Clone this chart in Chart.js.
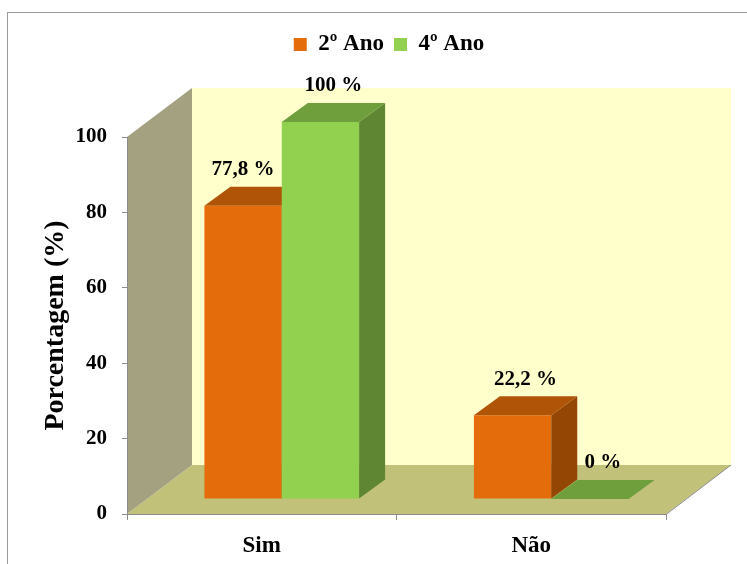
<!DOCTYPE html>
<html>
<head>
<meta charset="utf-8">
<script src="https://cdn.jsdelivr.net/npm/chart.js@4.4.0/dist/chart.umd.min.js"></script>
<style>
  html, body { margin: 0; padding: 0; background: #fff; }
  #wrap { width: 747px; height: 564px; }
</style>
</head>
<body>
<div id="wrap"><canvas id="chart" width="747" height="564"></canvas></div>
<script>
// Data
const categories = ['Sim', 'Não'];
const seriesNames = ['2º Ano', '4º Ano'];
const ano2 = [77.8, 22.2];
const ano4 = [100, 0];
const yTickStep = 20;
const yMax = 100;

// colours: front, top, side
const orange = { front: '#E46C0A', top: '#B05407', side: '#944605' };
const green = { front: '#92D050', top: '#6F9F3D', side: '#5E8633' };
const palette = [orange, green];

const SERIF = '"Liberation Serif", "Times New Roman", serif';

// 3D look: wall depth, bar offset into depth and bar depth
const WALL = { dx: 65, dy: -49 };
const BAR_OFF = { dx: 20, dy: -15 };
const BAR_DEPTH = { dx: 26, dy: -19 };

function poly(ctx, pts, fill, stroke) {
  ctx.beginPath();
  ctx.moveTo(pts[0][0], pts[0][1]);
  for (let i = 1; i < pts.length; i++) ctx.lineTo(pts[i][0], pts[i][1]);
  ctx.closePath();
  if (fill) { ctx.fillStyle = fill; ctx.fill(); }
  if (stroke) { ctx.strokeStyle = stroke; ctx.lineWidth = 1; ctx.stroke(); }
}

const fmt = v => String(v).replace('.', ',') + ' %';

const box3d = {
  id: 'box3d',
  beforeDraw(chart) {
    const { ctx, chartArea: a } = chart;
    ctx.save();
    ctx.fillStyle = '#fff';
    ctx.fillRect(0, 0, chart.width, chart.height);
    // outer frame
    ctx.strokeStyle = '#9A9A9A';
    ctx.lineWidth = 1;
    ctx.strokeRect(7.5, 12.5, 800, 600);

    const L = a.left, R = a.right, T = a.top, B = a.bottom;
    const wx = WALL.dx, wy = WALL.dy;
    // back wall
    poly(ctx, [[L + wx, T + wy], [R + wx, T + wy], [R + wx, B + wy], [L + wx, B + wy]], '#FFFFCC');
    // floor
    poly(ctx, [[L, B], [R, B], [R + wx, B + wy], [L + wx, B + wy]], '#C2C17A');
    ctx.beginPath();
    ctx.moveTo(R, B + 0.5); ctx.lineTo(R + wx, B + wy);
    ctx.strokeStyle = '#8C8C8C'; ctx.stroke();
    // side wall
    poly(ctx, [[L, T], [L + wx, T + wy], [L + wx, B + wy], [L, B]], '#A3A17F');
    ctx.restore();
  },
  beforeDatasetsDraw(chart) {
    const ctx = chart.ctx;
    const metas = chart.data.datasets.map((d, i) => chart.getDatasetMeta(i));
    ctx.save();
    categories.forEach((cat, ci) => {
      metas.forEach((meta, di) => {
        const el = meta.data[ci];
        const { x, y, base, width } = el.getProps(['x', 'y', 'base', 'width'], true);
        const c = palette[di];
        const x0 = x - width / 2 + BAR_OFF.dx, x1 = x + width / 2 + BAR_OFF.dx;
        const yT = y + BAR_OFF.dy, yB = base + BAR_OFF.dy;
        const bx = BAR_DEPTH.dx, by = BAR_DEPTH.dy;
        if (yB - yT > 0.5) {
          poly(ctx, [[x0, yT], [x1, yT], [x1, yB], [x0, yB]], c.front);
          poly(ctx, [[x1, yT], [x1 + bx, yT + by], [x1 + bx, yB + by], [x1, yB]], c.side);
        }
        poly(ctx, [[x0, yT], [x1, yT], [x1 + bx, yT + by], [x0 + bx, yT + by]], c.top);

        // value label, moved to the front when the next bar would hide it
        const v = chart.data.datasets[di].data[ci];
        let lx = (x0 + x1) / 2 + bx / 2;
        const next = chart.data.datasets[di + 1];
        if (next && next.data[ci] > v) lx = (x0 + x1) / 2;
        ctx.fillStyle = '#000';
        ctx.font = 'bold 21px ' + SERIF;
        ctx.textAlign = 'center';
        ctx.textBaseline = 'middle';
        ctx.fillText(fmt(v), lx, yT + by - 17);
      });
    });
    ctx.restore();
    return false;
  }
};

new Chart(document.getElementById('chart'), {
  type: 'bar',
  data: {
    labels: categories,
    datasets: [
      { label: seriesNames[0], data: ano2, backgroundColor: orange.front, borderWidth: 0 },
      { label: seriesNames[1], data: ano4, backgroundColor: green.front, borderWidth: 0 }
    ]
  },
  options: {
    responsive: false,
    animation: false,
    devicePixelRatio: 1,
    layout: { padding: { top: 23, right: 0, bottom: 0, left: 31 } },
    datasets: { bar: { categoryPercentage: 0.574, barPercentage: 1 } },
    plugins: {
      legend: {
        position: 'top',
        labels: {
          boxWidth: 13, boxHeight: 13, padding: 10, color: '#000',
          font: { family: SERIF, size: 23, weight: 'bold' }
        }
      },
      // empty title used as spacer between legend and plot
      title: {
        display: true, text: ' ', weight: 500, position: 'top',
        font: { size: 10, lineHeight: 1 }, padding: { top: 61, bottom: 0 }
      },
      tooltip: { enabled: false }
    },
    scales: {
      x: {
        grid: { offset: true, drawOnChartArea: false, drawTicks: true, tickLength: 6, color: '#8C8C8C' },
        border: { display: true, color: '#8C8C8C' },
        ticks: { color: '#000', padding: 12, font: { family: SERIF, size: 23, weight: 'bold' } },
        afterFit: s => { s.height = 50; }
      },
      y: {
        min: 0, max: yMax,
        ticks: { stepSize: yTickStep, color: '#000', padding: 15, font: { family: SERIF, size: 21, weight: 'bold' } },
        grid: { drawOnChartArea: false, drawTicks: true, tickLength: 5, color: '#8C8C8C' },
        border: { display: true, color: '#8C8C8C' },
        title: {
          display: true, text: 'Porcentagem (%)', color: '#000',
          font: { family: SERIF, size: 28, weight: 'bold' }, padding: { top: 8, bottom: 0 }
        },
        afterFit: s => { s.width = 96; }
      },
      // invisible axis that keeps room on the right of the plot
      spacer: {
        type: 'linear', position: 'right', display: true,
        ticks: { display: false }, grid: { display: false }, border: { display: false },
        afterFit: s => { s.width = 81; }
      }
    }
  },
  plugins: [box3d]
});
</script>
</body>
</html>
